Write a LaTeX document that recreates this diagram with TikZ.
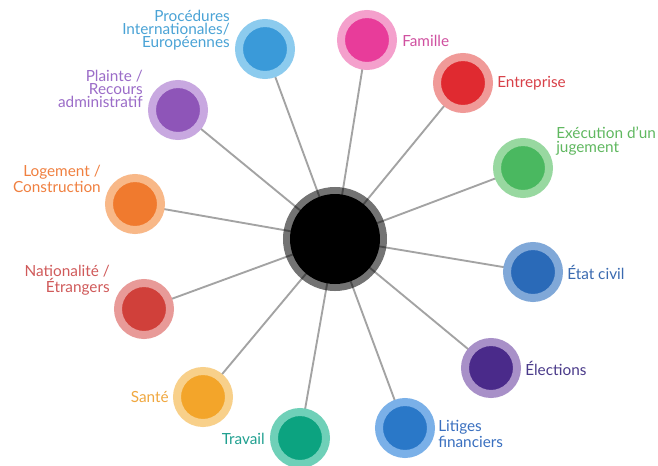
\documentclass[tikz,border=0pt]{standalone}
\usepackage{fontspec}
\setmainfont{Lato}
\usetikzlibrary{backgrounds}
\definecolor{procIn}{HTML}{3A9AD9}\definecolor{procOut}{HTML}{8CCBEE}\definecolor{procTx}{HTML}{4AA3D6}
\definecolor{plaiIn}{HTML}{8E55B8}\definecolor{plaiOut}{HTML}{C8A8E0}\definecolor{plaiTx}{HTML}{9B6CC8}
\definecolor{logeIn}{HTML}{F07A2E}\definecolor{logeOut}{HTML}{F8B888}\definecolor{logeTx}{HTML}{F08040}
\definecolor{natiIn}{HTML}{D0403A}\definecolor{natiOut}{HTML}{E89A98}\definecolor{natiTx}{HTML}{D05A5A}
\definecolor{santIn}{HTML}{F3A52A}\definecolor{santOut}{HTML}{F8D08A}\definecolor{santTx}{HTML}{F0A840}
\definecolor{travIn}{HTML}{0CA380}\definecolor{travOut}{HTML}{6FD0B8}\definecolor{travTx}{HTML}{20A090}
\definecolor{litiIn}{HTML}{2A78C8}\definecolor{litiOut}{HTML}{7AB0E8}\definecolor{litiTx}{HTML}{3A70C0}
\definecolor{elecIn}{HTML}{4A2A8A}\definecolor{elecOut}{HTML}{A890C8}\definecolor{elecTx}{HTML}{4A3A8A}
\definecolor{etatIn}{HTML}{2A6AB8}\definecolor{etatOut}{HTML}{80A8D8}\definecolor{etatTx}{HTML}{3A6AB0}
\definecolor{execIn}{HTML}{4AB860}\definecolor{execOut}{HTML}{98D8A0}\definecolor{execTx}{HTML}{60B860}
\definecolor{entrIn}{HTML}{E02A30}\definecolor{entrOut}{HTML}{F09A98}\definecolor{entrTx}{HTML}{D84048}
\definecolor{famiIn}{HTML}{E83C9A}\definecolor{famiOut}{HTML}{F4A0CC}\definecolor{famiTx}{HTML}{D050A0}
\tikzset{
    topic/.style={circle, inner sep=0pt, minimum size=39pt, line width=6pt,
        fill=#1In, draw=#1Out},
    hub/.style={circle, inner sep=0pt, minimum size=67.5pt, line width=10.5pt,
        fill=black, draw=black, draw opacity=.55},
    caption/.style={inner sep=0pt, text=#1Tx, font=\fontsize{11.5}{10}\selectfont},
    spoke/.style={draw=black!36, line width=1.4pt}
}
\begin{document}
\begin{tikzpicture}[x=0.75pt,y=-0.75pt]
	\useasboundingbox (0,0) rectangle (658,465);
	\node (hub) [hub] at (335,239) {};
	\node (proc) [topic=proc] at (265,49) {};
	\node (plai) [topic=plai] at (178,110) {};
	\node (loge) [topic=loge] at (135,204) {};
	\node (nati) [topic=nati] at (144,309) {};
	\node (sant) [topic=sant] at (203,397) {};
	\node (trav) [topic=trav] at (300,438) {};
	\node (liti) [topic=liti] at (405,428) {};
	\node (elec) [topic=elec] at (491,368) {};
	\node (etat) [topic=etat] at (533,272) {};
	\node (exec) [topic=exec] at (523,168) {};
	\node (entr) [topic=entr] at (463,83) {};
	\node (fami) [topic=fami] at (367,40) {};

	\node (proc-l) [caption=proc, anchor=east, align=right] at (230,30) {Procédures\\Internationales/\\Européennes};
	\node (plai-l) [caption=plai, anchor=east, align=right] at (143,89) {Plainte /\\Recours\\administratif};
	\node (loge-l) [caption=loge, anchor=east, align=right] at (101,179) {Logement /\\Construction};
	\node (nati-l) [caption=nati, anchor=east, align=right] at (110,280) {Nationalité /\\Étrangers};
	\node (sant-l) [caption=sant, anchor=east] at (169,397) {Santé};
	\node (trav-l) [caption=trav, anchor=east] at (265,439) {Travail};
	\node (liti-l) [caption=liti, anchor=west, align=left] at (438,434) {Litiges\\financiers};
	\node (elec-l) [caption=elec, anchor=west] at (525,368) {Élections};
	\node (etat-l) [caption=etat, anchor=west] at (567,272) {État civil};
	\node (exec-l) [caption=exec, anchor=west, align=left] at (556,141) {Exécution d'un\\jugement};
	\node (entr-l) [caption=entr, anchor=west] at (497,83) {Entreprise};
	\node (fami-l) [caption=fami, anchor=west] at (402,41) {Famille};

	\begin{scope}[on background layer]
		\fill [white] (0,0) rectangle (658,465);
		\foreach \t in {proc,plai,loge,nati,sant,trav,liti,elec,etat,exec,entr,fami}
			\draw [spoke] (hub.center) -- (\t.center);
	\end{scope}
\end{tikzpicture}
\end{document}
